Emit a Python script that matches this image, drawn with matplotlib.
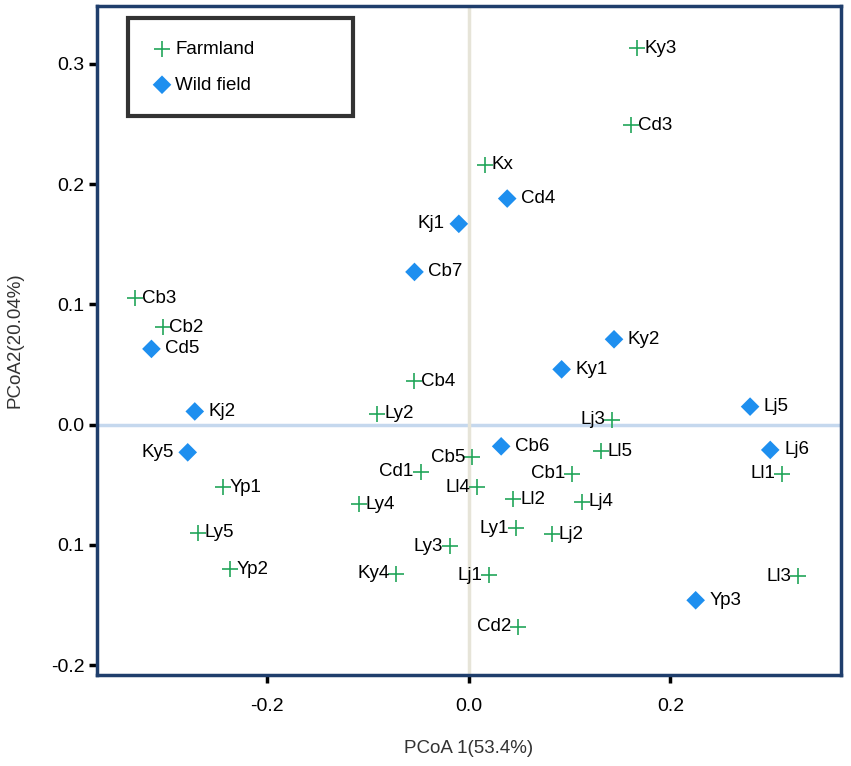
import matplotlib.pyplot as plt

# sample scores
farm_names = ["Ky3", "Cd3", "Kx", "Cb3", "Cb2", "Cb4", "Ly2", "Yp1", "Ly5", "Yp2",
              "Ly4", "Cd1", "Ky4", "Ly3", "Cb5", "Ll4", "Ll2", "Ly1", "Lj1", "Cd2",
              "Cb1", "Ll5", "Lj3", "Lj4", "Lj2", "Ll1", "Ll3"]
farm_x = [0.167, 0.161, 0.016, -0.331, -0.304, -0.054, -0.091, -0.244, -0.269, -0.237,
          -0.109, -0.048, -0.072, -0.019, 0.003, 0.008, 0.044, 0.047, 0.020, 0.049,
          0.102, 0.131, 0.142, 0.112, 0.082, 0.311, 0.327]
farm_y = [0.313, 0.249, 0.216, 0.105, 0.081, 0.036, 0.009, -0.052, -0.090, -0.120,
          -0.066, -0.039, -0.124, -0.101, -0.027, -0.052, -0.062, -0.086, -0.125, -0.168,
          -0.041, -0.022, 0.004, -0.064, -0.091, -0.041, -0.126]
farm_side = ["r", "r", "r", "r", "r", "r", "r", "r", "r", "r",
             "r", "l", "l", "l", "l", "l", "r", "l", "l", "l",
             "l", "r", "l", "r", "r", "l", "l"]

wild_names = ["Cd4", "Kj1", "Cb7", "Cd5", "Ky2", "Ky1", "Kj2", "Ky5", "Cb6", "Lj5", "Lj6", "Yp3"]
wild_x = [0.038, -0.010, -0.054, -0.315, 0.144, 0.092, -0.272, -0.279, 0.032, 0.279, 0.299, 0.225]
wild_y = [0.188, 0.167, 0.127, 0.063, 0.071, 0.046, 0.011, -0.023, -0.018, 0.015, -0.021, -0.146]
wild_side = ["r", "l", "r", "r", "r", "r", "r", "l", "r", "r", "r", "r"]

xticks = [-0.2, 0.0, 0.2]
xtick_labels = ["-0.2", "0.0", "0.2"]
yticks = [0.3, 0.2, 0.1, 0.0, -0.1, -0.2]
ytick_labels = ["0.3", "0.2", "0.1", "0.0", "0.1", "-0.2"]

green = "#22a65a"
blue = "#1e8fef"
frame = "#1f3e6c"

plt.rcParams['font.family'] = ['Liberation Sans', 'DejaVu Sans']

fig = plt.figure(figsize=(8.51, 7.66), dpi=100)
ax = fig.add_axes([0.114, 0.119, 0.874, 0.873])

ax.axhline(0, color="#c5d8ee", lw=2.5, zorder=1)
ax.axvline(0, color="#e6e4d8", lw=2.5, zorder=1)

ax.scatter(farm_x, farm_y, marker="+", s=130, color=green, linewidths=1.2,
           label="Farmland", zorder=3)
ax.scatter(wild_x, wild_y, marker="D", s=90, color=blue, edgecolors="none",
           label="Wild field", zorder=3)

# point labels
for names, xs, ys, sides, gap in [(farm_names, farm_x, farm_y, farm_side, 5),
                                  (wild_names, wild_x, wild_y, wild_side, 10)]:
    for n, x, y, s in zip(names, xs, ys, sides):
        if s == "r":
            ax.annotate(n, (x, y), xytext=(gap, 0), textcoords="offset points",
                        ha="left", va="center", fontsize=13.5)
        else:
            ax.annotate(n, (x, y), xytext=(-gap, 0), textcoords="offset points",
                        ha="right", va="center", fontsize=13.5)

ax.set_xlim(-0.369, 0.369)
ax.set_ylim(-0.208, 0.348)
ax.set_xticks(xticks)
ax.set_xticklabels(xtick_labels)
ax.set_yticks(yticks)
ax.set_yticklabels(ytick_labels)
ax.tick_params(axis="both", direction="out", length=6, width=2.5, color="black",
               labelsize=14, pad=3)
ax.tick_params(axis="x", pad=11)

for sp in ax.spines.values():
    sp.set_color(frame)
    sp.set_linewidth(2.5)

ax.set_xlabel("PCoA 1(53.4%)", fontsize=13.5, color="#333333", labelpad=18)
ax.set_ylabel("PCoA2(20.04%)", fontsize=13.5, color="#333333", labelpad=20)

leg = ax.legend(loc="upper left", bbox_to_anchor=(0.042, 0.982), fontsize=13.5,
                frameon=True, fancybox=False, handletextpad=0.1, borderpad=1.2,
                labelspacing=1.0, borderaxespad=0, handlelength=1.2)
leg.get_frame().set_edgecolor("black")
leg.get_frame().set_linewidth(3)
# widen the legend box like the reference, entries kept at the left
leg._legend_box.align = "left"
leg._legend_box.set_width(180)

fig.savefig("out.png", dpi=100)
